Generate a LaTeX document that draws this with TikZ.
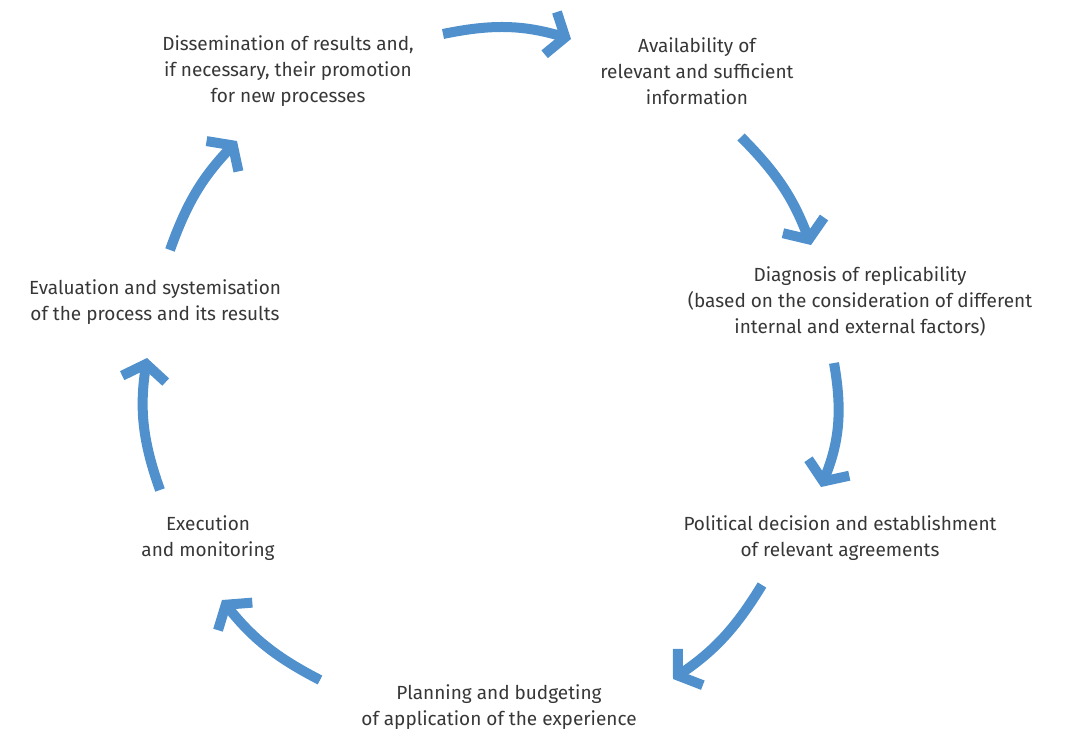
\documentclass[tikz,border=0pt]{standalone}
\usepackage{fontspec}
\setmainfont{Fira Sans}
\usetikzlibrary{arrows.meta}

\definecolor{cycleblue}{RGB}{79,144,205}
\definecolor{steptext}{RGB}{55,55,55}

\tikzset{
  stepnode/.style={inner sep=0.75pt, align=center, text=steptext,
    font=\fontsize{19}{26}\selectfont},
  cyclearrow/.style={draw=cycleblue, line width=10pt,
    -{Straight Barb[length=15pt, width=44pt, line join=miter]}},
}

\begin{document}
\begin{tikzpicture}[x=1pt,y=1pt,yscale=-1,xscale=1]
\useasboundingbox (0,0) rectangle (1068,732);

% Text Node
\node[stepnode] (dissem) at (288,71) {Dissemination of results and,\\if necessary, their promotion\\for new processes};
% Text Node
\node[stepnode] (avail) at (697,71) {Availability of\\relevant and sufficient\\information};
% Text Node
\node[stepnode] (diag) at (860,301) {Diagnosis of replicability\\(based on the consideration of different\\internal and external factors)};
% Text Node
\node[stepnode] (polit) at (840,538) {Political decision and establishment\\of relevant agreements};
% Text Node
\node[stepnode] (plan) at (499,707) {Planning and budgeting\\of application of the experience};
% Text Node
\node[stepnode] (exec) at (208,538) {Execution\\and monitoring};
% Text Node
\node[stepnode] (eval) at (155,302) {Evaluation and systemisation\\of the process and its results};

% arrow end points
\coordinate (a1s) at (443,34);
\coordinate (a1e) at (571,39);
\coordinate (a2s) at (741,137);
\coordinate (a2e) at (811,245);
\coordinate (a3s) at (834,363);
\coordinate (a3e) at (821,487);
\coordinate (a4s) at (762,585);
\coordinate (a4e) at (673,679);
\coordinate (a5s) at (320,680);
\coordinate (a5e) at (222,600);
\coordinate (a6s) at (160,490);
\coordinate (a6e) at (147,358);
\coordinate (a7s) at (170,250);
\coordinate (a7e) at (237,141);

% Curve Lines
\draw[cyclearrow] (a1s) to[bend right=14] (a1e);
\draw[cyclearrow] (a2s) to[bend right=12] (a2e);
\draw[cyclearrow] (a3s) to[bend right=16] (a3e);
\draw[cyclearrow] (a4s) to[bend right=12] (a4e);
\draw[cyclearrow] (a5s) to[bend right=12] (a5e);
\draw[cyclearrow] (a6s) to[bend right=14] (a6e);
\draw[cyclearrow] (a7s) to[bend right=12] (a7e);

\end{tikzpicture}
\end{document}
